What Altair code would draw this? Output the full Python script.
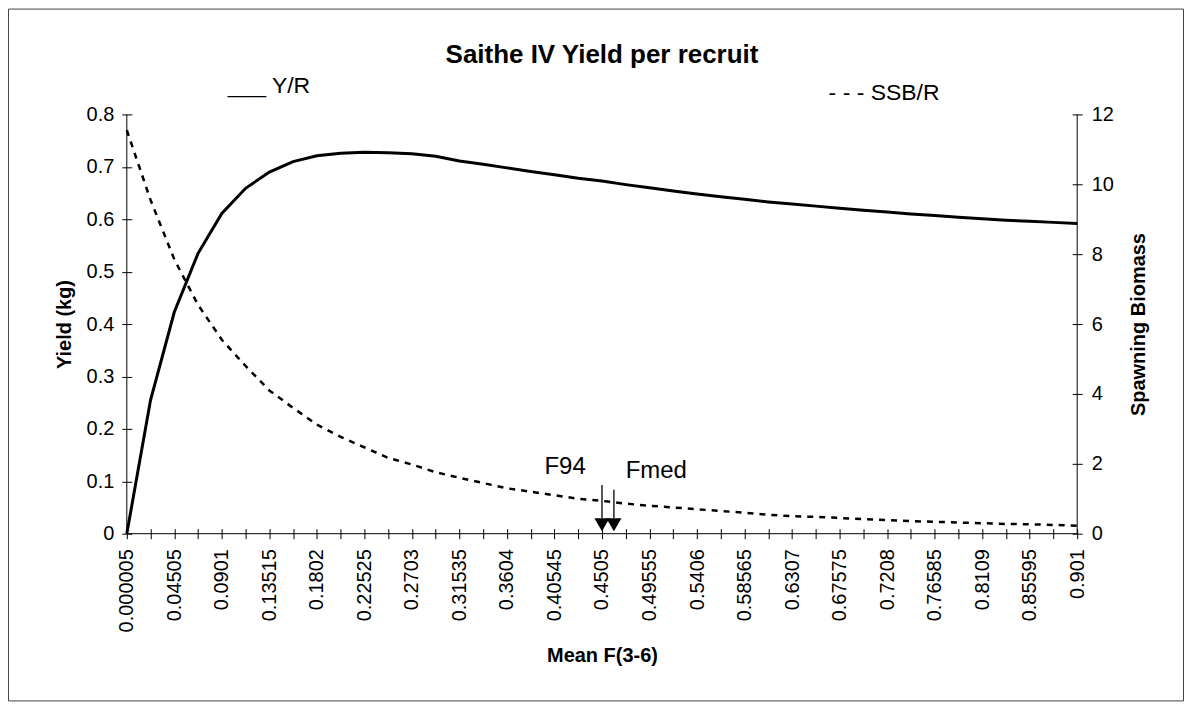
import altair as alt
import pandas as pd

# ---------------- data ----------------
F_VALUES = [0.000005, 0.022525, 0.04505, 0.067575, 0.0901, 0.112625, 0.13515, 0.157675,
            0.1802, 0.202725, 0.22525, 0.247775, 0.2703, 0.292825, 0.31535, 0.337875,
            0.3604, 0.382925, 0.40545, 0.427975, 0.4505, 0.473025, 0.49555, 0.518075,
            0.5406, 0.563125, 0.58565, 0.608175, 0.6307, 0.653225, 0.67575, 0.698275,
            0.7208, 0.743325, 0.76585, 0.788375, 0.8109, 0.833425, 0.85595, 0.878475, 0.901]

YIELD_PER_RECRUIT = [0.000, 0.255, 0.423, 0.535, 0.611, 0.659, 0.690, 0.710, 0.721, 0.726,
                     0.728, 0.727, 0.725, 0.720, 0.711, 0.705, 0.698, 0.691, 0.685, 0.678,
                     0.673, 0.666, 0.660, 0.654, 0.648, 0.643, 0.638, 0.633, 0.629, 0.625,
                     0.621, 0.617, 0.614, 0.610, 0.607, 0.604, 0.601, 0.598, 0.596, 0.594,
                     0.592]

SSB_PER_RECRUIT = [11.55, 9.55, 7.85, 6.55, 5.55, 4.80, 4.10, 3.60, 3.12, 2.77,
                   2.47, 2.17, 1.98, 1.76, 1.60, 1.45, 1.30, 1.20, 1.10, 1.00,
                   0.94, 0.86, 0.80, 0.75, 0.70, 0.65, 0.60, 0.54, 0.50, 0.48,
                   0.45, 0.42, 0.39, 0.36, 0.34, 0.32, 0.30, 0.28, 0.27, 0.25,
                   0.23]

TICK_LABELS = ["0.000005", "0.04505", "0.0901", "0.13515", "0.1802", "0.22525", "0.2703",
               "0.31535", "0.3604", "0.40545", "0.4505", "0.49555", "0.5406", "0.58565",
               "0.6307", "0.67575", "0.7208", "0.76585", "0.8109", "0.85595", "0.901"]

YIELD_TICKS = [0, 0.1, 0.2, 0.3, 0.4, 0.5, 0.6, 0.7, 0.8]
SSB_TICKS = [0, 2, 4, 6, 8, 10, 12]

TITLE = "Saithe IV Yield per recruit"
LEGEND_TEXTS = ["___ Y/R", "- - - SSB/R"]

MARKER_NAMES = ["F94", "Fmed"]
MARKER_F = [0.4505, 0.4618]
MARKER_TOP = [0.093, 0.084]
MARKER_LABEL_F = [0.4155, 0.502]
MARKER_LABEL_Y = [0.114, 0.106]

FONT = "Liberation Sans"

df = pd.DataFrame({"F": F_VALUES, "Yield": YIELD_PER_RECRUIT, "SSB": SSB_PER_RECRUIT})
mk = pd.DataFrame({
    "name": MARKER_NAMES,
    "F": MARKER_F,
    "top": MARKER_TOP,
    "bottom": [0.03, 0.03],
    "head": [0.017, 0.017],
    "lx": MARKER_LABEL_F,
    "ly": MARKER_LABEL_Y,
})
one = pd.DataFrame({"a": [0]})

label_vals = ",".join(repr(float(s)) for s in TICK_LABELS)

x_scale = alt.Scale(domain=[F_VALUES[0], F_VALUES[-1]], nice=False, zero=False)
y_scale = alt.Scale(domain=[0, 0.8], nice=False, zero=False)
s_scale = alt.Scale(domain=[0, 12], nice=False, zero=False)

x_axis = alt.Axis(
    values=F_VALUES,
    labelExpr=f"indexof([{label_vals}], datum.value) >= 0 ? toString(datum.value) : ''",
    labelAngle=-90, labelFlush=False, labelOverlap=False,
    tickSize=10, offset=-5, domain=False, grid=False,
    labelPadding=10, title="Mean F(3-6)", titlePadding=14,
)
y_axis = alt.Axis(
    values=YIELD_TICKS, labelExpr="toString(datum.value)", tickSize=10, offset=-5,
    domain=False, grid=False, labelOverlap=False,
    labelPadding=8, labelFlush=False, title="Yield (kg)", titlePadding=12,
)
s_axis = alt.Axis(
    values=SSB_TICKS, labelExpr="toString(datum.value)", orient="right", tickSize=10,
    offset=-5, domain=False, labelOverlap=False,
    grid=False, labelPadding=9, labelFlush=False, title="Spawning Biomass",
    titleAngle=-90, titleBaseline="top", titlePadding=15,
)

X = alt.X("F:Q", scale=x_scale, axis=x_axis)

yield_line = alt.Chart(df).mark_line(color="black", strokeWidth=3).encode(
    x=X, y=alt.Y("Yield:Q", scale=y_scale, axis=y_axis)
)

# axis lines (drawn from the scales)
x_line = alt.Chart(one).mark_rule(color="black", strokeWidth=1).encode(
    y=alt.Y(datum=0, scale=y_scale, axis=y_axis)
)
left_line = alt.Chart(one).mark_rule(color="black", strokeWidth=1).encode(
    x=alt.X(datum=F_VALUES[0], scale=x_scale, axis=x_axis)
)
right_line = alt.Chart(one).mark_rule(color="black", strokeWidth=1).encode(
    x=alt.X(datum=F_VALUES[-1], scale=x_scale, axis=x_axis)
)

arrow_shaft = alt.Chart(mk).mark_rule(color="black", strokeWidth=1.3).encode(
    x=alt.X("F:Q", scale=x_scale, axis=x_axis),
    y=alt.Y("top:Q", scale=y_scale, axis=y_axis),
    y2="bottom:Q",
)
arrow_head = alt.Chart(mk).mark_point(
    shape="triangle-down", filled=True, color="black", size=230, opacity=1
).encode(
    x=alt.X("F:Q", scale=x_scale, axis=x_axis),
    y=alt.Y("head:Q", scale=y_scale, axis=y_axis),
)
arrow_text = alt.Chart(mk).mark_text(
    font=FONT, fontSize=24, color="black", align="center", baseline="alphabetic"
).encode(
    x=alt.X("lx:Q", scale=x_scale, axis=x_axis),
    y=alt.Y("ly:Q", scale=y_scale, axis=y_axis),
    text="name:N",
)

title_text = alt.Chart(one).mark_text(
    font=FONT, fontSize=26, fontWeight="bold", color="black", align="center",
    baseline="alphabetic"
).encode(x=alt.value(476), y=alt.value(-51), text=alt.value(TITLE))

legend_yr = alt.Chart(one).mark_text(
    font=FONT, fontSize=23, color="black", align="left", baseline="alphabetic"
).encode(x=alt.value(101), y=alt.value(-21), text=alt.value(LEGEND_TEXTS[0]))
legend_ssb = alt.Chart(one).mark_text(
    font=FONT, fontSize=23, color="black", align="left", baseline="alphabetic"
).encode(x=alt.value(703), y=alt.value(-14), text=alt.value(LEGEND_TEXTS[1]))

frame = alt.Chart(one).mark_rect(
    fill="white", fillOpacity=0, stroke="#444444", strokeWidth=1, strokeOpacity=1
).encode(
    x=alt.value(-118.5), x2=alt.value(1058.5), y=alt.value(-105.5), y2=alt.value(587.5)
)

left_group = alt.layer(
    frame, x_line, left_line, right_line, yield_line,
    arrow_shaft, arrow_head, arrow_text, title_text, legend_yr, legend_ssb,
)

ssb_line = alt.Chart(df).mark_line(color="black", strokeWidth=2.5, strokeDash=[6, 6]).encode(
    x=X, y=alt.Y("SSB:Q", scale=s_scale, axis=s_axis)
)

chart = alt.layer(left_group, ssb_line).resolve_scale(y="independent").properties(
    width=952,
    height=420,
    padding={"left": 119, "top": 106, "right": 107, "bottom": 168},
    autosize=alt.AutoSizeParams(type="none"),
    background="white",
).configure_axis(
    labelFont=FONT, labelFontSize=20, labelColor="black",
    titleFont=FONT, titleFontSize=20, titleFontWeight="bold", titleColor="black",
    tickColor="black", tickWidth=1, domainColor="black",
).configure_view(stroke=None)

chart.save("out.html", embed_options={"renderer": "svg", "actions": False})
